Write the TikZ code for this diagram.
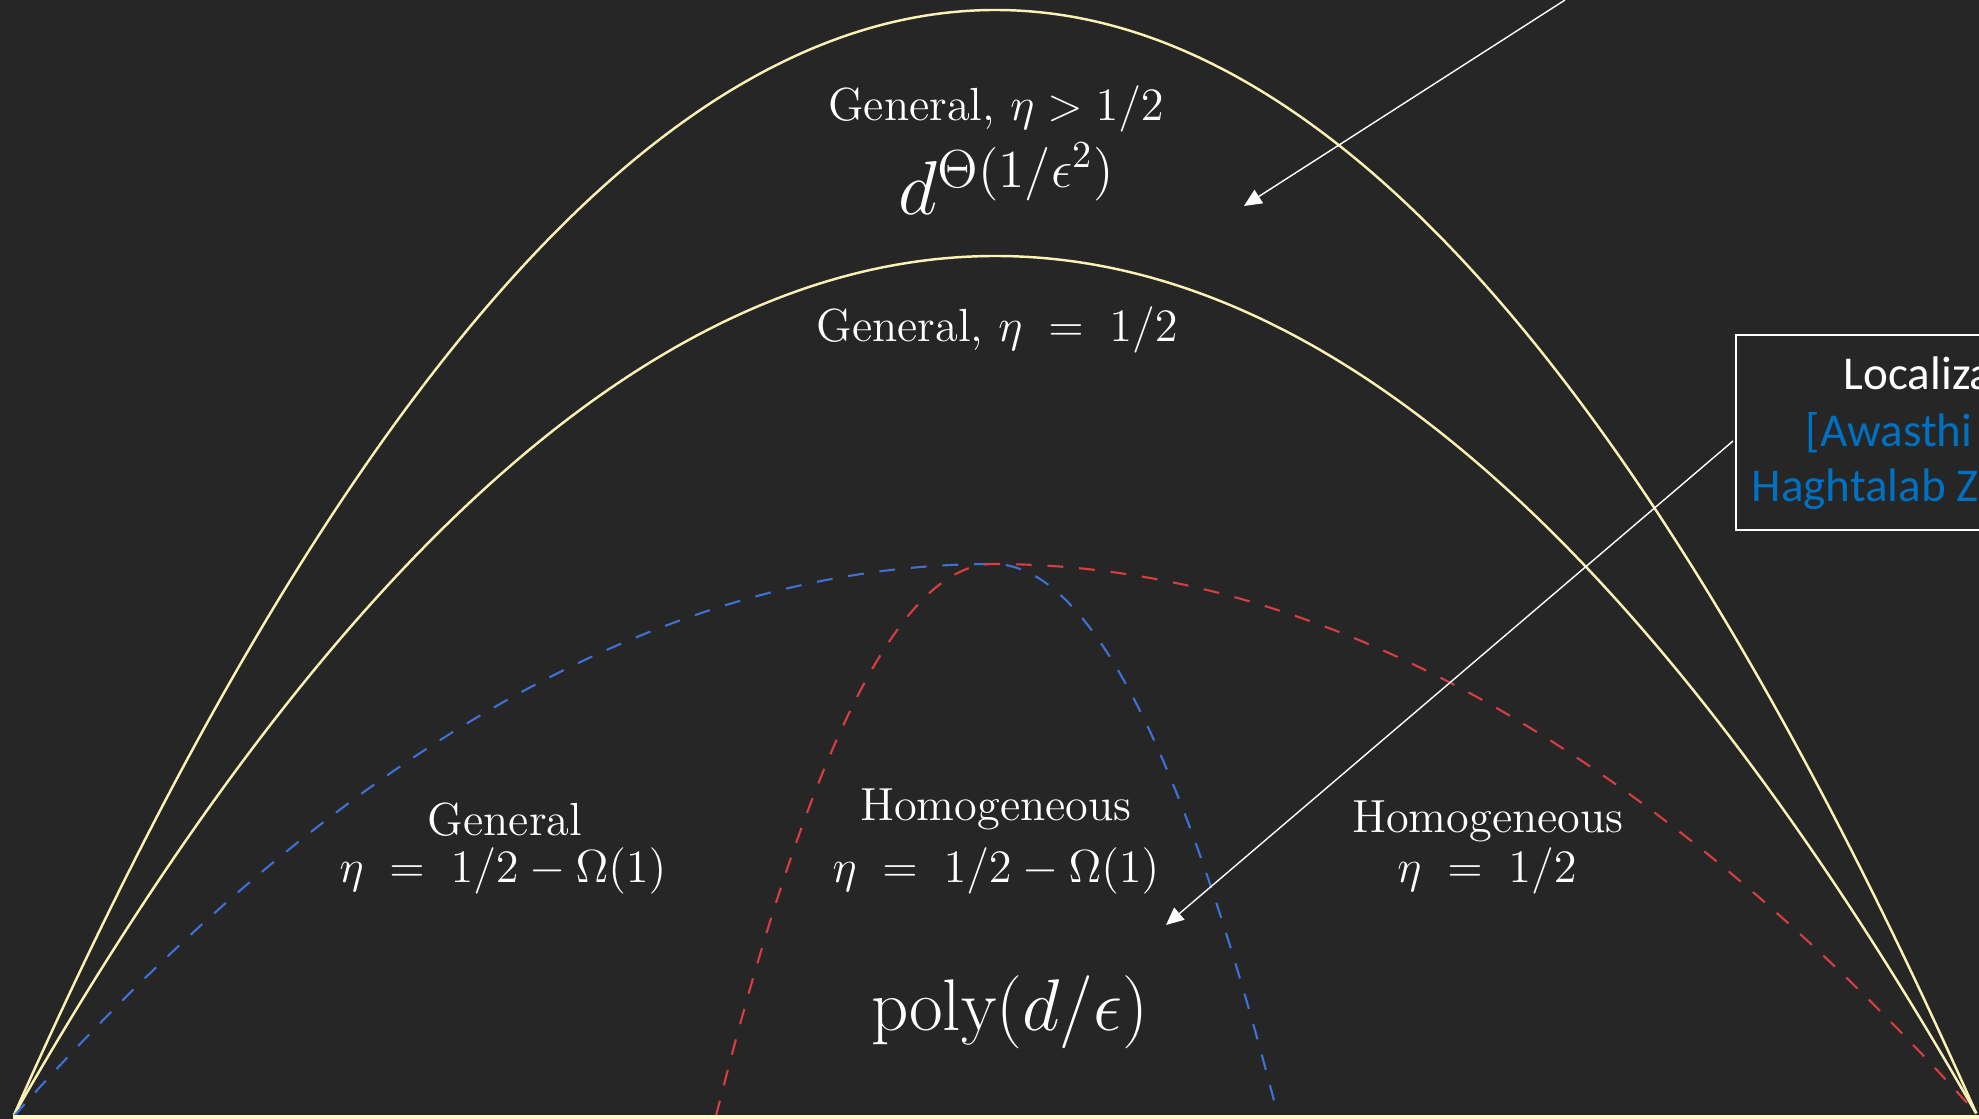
\RequirePackage{fix-cm}
\documentclass[tikz,border=0pt]{standalone}
\usepackage{fontspec}
\newfontfamily\calibri{Carlito}
\usetikzlibrary{arrows.meta}
\definecolor{bg}{HTML}{262626}
\definecolor{curveyel}{RGB}{250,242,180}
\definecolor{baryel}{RGB}{255,249,200}
\definecolor{dblue}{RGB}{62,112,214}
\definecolor{dred}{RGB}{214,62,66}
\definecolor{refblue}{RGB}{0,112,192}
\tikzset{
  yelcurve/.style={draw=curveyel, line width=0.7pt},
  dashcurve/.style={line width=0.6pt, dash pattern=on 4.5pt off 4.5pt},
  lbl/.style={text=white, inner sep=0pt, font=\fontsize{13.2}{15.5}\selectfont},
  biglbl/.style={text=white, inner sep=0pt, font=\fontsize{21.7}{26}\selectfont},
  polylbl/.style={text=white, inner sep=0pt, font=\fontsize{20.8}{25}\selectfont},
  boxtxt/.style={inner sep=0pt, anchor=base west, font=\calibri\fontsize{13.4}{16}\selectfont},
  pointer/.style={draw=white, line width=0.4pt, -{Triangle[length=5pt,width=4.5pt]}}
}
\begin{document}
\begin{tikzpicture}[x=0.01cm,y=-0.01cm]
\fill[bg] (0,0) rectangle (1979,1119);
\useasboundingbox (0,0) rectangle (1979,1119);
\begin{scope}
\clip (0,0) rectangle (1979,1119);
% yellow outer and inner curves
\draw[yelcurve] plot[domain=-1:1, samples=160, smooth] ({995.5+981.5*\x},{10+1105*\x*\x});
\draw[yelcurve] plot[domain=-1:1, samples=160, smooth] ({995.5+981.5*\x},{256+859*\x*\x});
% blue dashed
\draw[dashcurve, draw=dblue] plot[domain=-1:0, samples=100, smooth] ({993+979*\x},{564+552*\x*\x})
  -- plot[domain=0:1, samples=60, smooth] ({993+285*\x},{564+552*\x*\x});
% red dashed
\draw[dashcurve, draw=dred] plot[domain=-1:0, samples=60, smooth] ({993+277*\x},{564+552*\x*\x})
  -- plot[domain=0:1, samples=100, smooth] ({993+984*\x},{564+550*\x*\x});
% bottom bar
\draw[draw=baryel, line width=1.2pt] (13,1117) -- (1979,1117);
% box
\node[draw=white, line width=0.6pt, anchor=north west, minimum width=400*0.01cm, minimum height=195*0.01cm, inner sep=0pt] (box) at (1735,334) {};
\node[boxtxt, text=white] (bt1) at (1843,390) {Localiza};
\node[boxtxt, text=refblue] (bt2) at (1805,447) {[Awasthi};
\node[boxtxt, text=refblue] (bt3) at (1751,502) {Haghtalab Z};
% arrows
\coordinate (src1) at (1565,0);
\coordinate (tip1) at (1244,206);
\coordinate (src2) at (1733,441);
\coordinate (tip2) at (1166,925);
\draw[pointer] (src1) -- (tip1);
\draw[pointer] (src2) -- (tip2);
\end{scope}
% labels
\node[lbl, anchor=base] (gtop) at (996,121) {General, $\eta > 1/2$};
\node[biglbl, anchor=base] (dexp) at (1007,215) {$d^{\Theta(1/\epsilon^2)}$};
\node[lbl, anchor=base] (ghalf) at (997,342) {General, $\eta \;=\; 1/2$};
\node[lbl, anchor=base] (gen) at (505,835) {General};
\node[lbl, anchor=base] (geneta) at (503,882) {$\eta \;=\; 1/2 - \Omega(1)$};
\node[lbl, anchor=base] (hom) at (996,820) {Homogeneous};
\node[lbl, anchor=base] (hometa) at (996,882) {$\eta \;=\; 1/2 - \Omega(1)$};
\node[lbl, anchor=base] (homr) at (1488,832) {Homogeneous};
\node[lbl, anchor=base] (homreta) at (1487,882) {$\eta \;=\; 1/2$};
\node[polylbl, anchor=base] (poly) at (1010,1030) {$\mathrm{poly}(d/\epsilon)$};
\end{tikzpicture}
\end{document}
